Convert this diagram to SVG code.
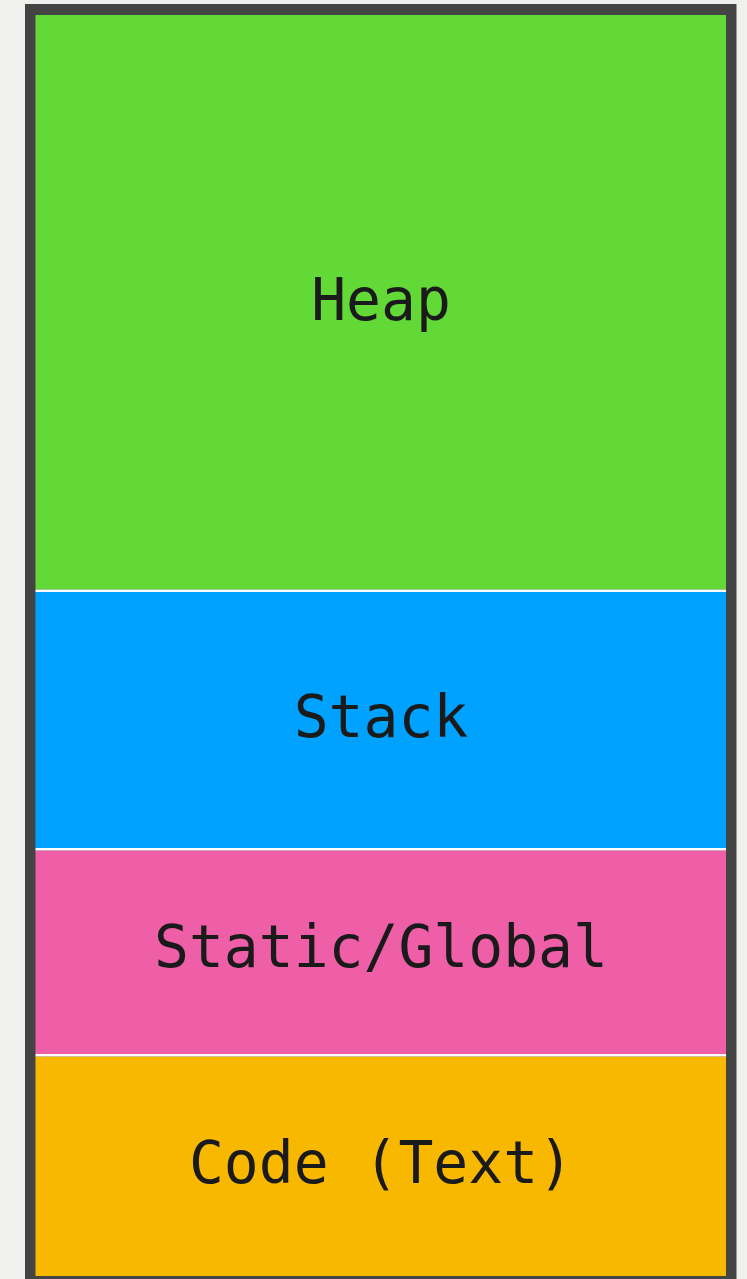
<svg xmlns="http://www.w3.org/2000/svg" width="747" height="1279" viewBox="0 0 747 1279">
  <style>
    .label { font-family: "DejaVu Sans Mono", "Liberation Mono", monospace; font-size: 58px; fill: #1a1a1a; text-anchor: middle; }
    .sep { fill: #ffffff; }
  </style>
  <!-- page background -->
  <rect x="0" y="0" width="747" height="1279" fill="#f0f0ee"/>
  <!-- outer frame of the memory layout -->
  <rect id="frame" x="25" y="4" width="711.5" height="1290" fill="#444444"/>

  <g id="heap">
    <rect x="35.5" y="15" width="690.5" height="574.5" fill="#62d936"/>
    <text class="label" x="381" y="320">Heap</text>
  </g>
  <g id="stack">
    <rect x="35.5" y="592" width="690.5" height="256" fill="#00a2ff"/>
    <text class="label" x="381" y="737">Stack</text>
  </g>
  <g id="static-global">
    <rect x="35.5" y="850.5" width="690.5" height="203.5" fill="#ef5fa7"/>
    <text class="label" x="381" y="967">Static/Global</text>
  </g>
  <g id="code-text">
    <rect x="35.5" y="1056.5" width="690.5" height="219.5" fill="#f8b800"/>
    <text class="label" x="381" y="1183">Code (Text)</text>
  </g>

  <!-- white dividers between segments -->
  <g id="dividers">
    <rect class="sep" x="35.5" y="589.5" width="690.5" height="2.5"/>
    <rect class="sep" x="35.5" y="848" width="690.5" height="2.5"/>
    <rect class="sep" x="35.5" y="1054" width="690.5" height="2.5"/>
  </g>
</svg>
